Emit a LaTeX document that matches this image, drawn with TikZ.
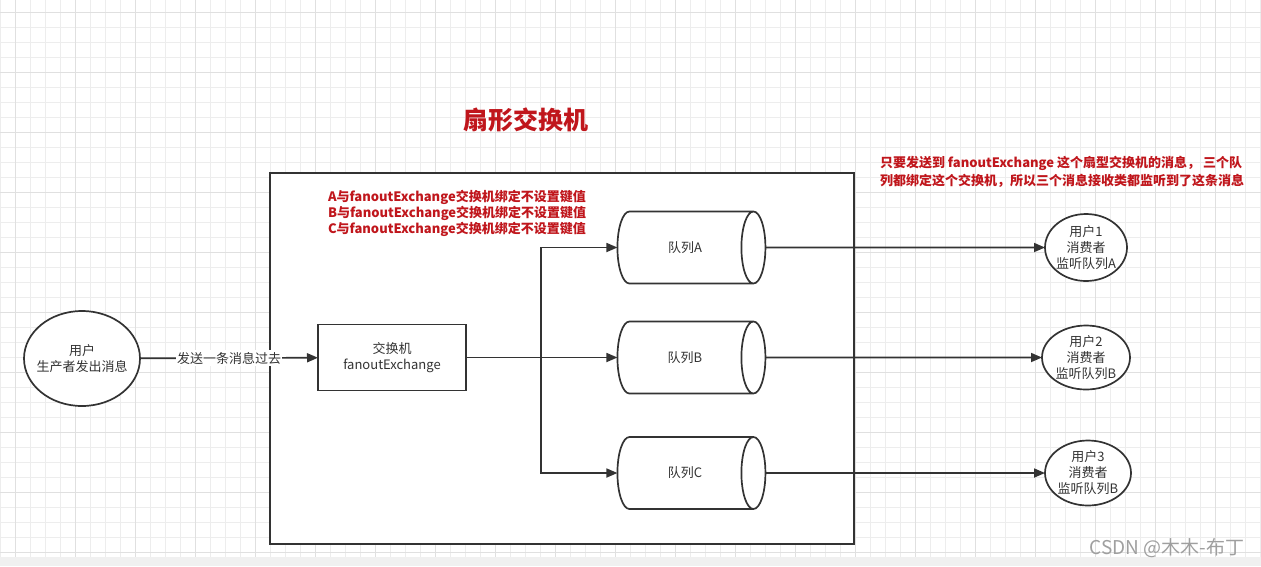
\documentclass[tikz,border=0pt]{standalone}
\usepackage{fontspec}
\setmainfont{Noto Sans CJK SC}
\usepackage{xcolor}
\usetikzlibrary{shapes.geometric, arrows.meta, positioning}
\definecolor{linegray}{HTML}{333333}
\definecolor{notered}{RGB}{192,22,28}
\definecolor{gridminor}{HTML}{EDEDED}
\definecolor{gridmajor}{HTML}{E0E0E0}
\definecolor{stripgray}{HTML}{F0F0F0}

\begin{document}
\begin{tikzpicture}[x=1pt, y=-1pt,
        every node/.style={font=\fontsize{13pt}{16pt}\selectfont, text=linegray, align=center, inner sep=0pt, outer sep=0pt},
        user/.style={ellipse, draw=linegray, line width=1.7pt, fill=white, inner sep=-6pt},
        queue/.style={cylinder, draw=linegray, line width=1.7pt, fill=white, minimum height=148pt, minimum width=72pt, aspect=2.0},
        flow/.style={draw=linegray, line width=1.7pt, -{Triangle[length=11pt, width=9pt]}},
        note/.style={text=notered, font=\bfseries\fontsize{13pt}{16pt}\selectfont, align=left}]

        \useasboundingbox (0,0) rectangle (1261,566);

        % Background grid
        \fill[white] (0,0) rectangle (1261,556.7);
        \foreach \gx in {0.7,15.7,...,1261} \draw[gridminor, line width=1pt] (\gx,0) -- (\gx,556.7);
        \foreach \gy in {-2.7,12.3,...,556} \draw[gridminor, line width=1pt] (0,\gy) -- (1261,\gy);
        \foreach \gx in {15.7,75.7,...,1261} \draw[gridmajor, line width=1pt] (\gx,0) -- (\gx,556.7);
        \foreach \gy in {12.3,72.3,...,556} \draw[gridmajor, line width=1pt] (0,\gy) -- (1261,\gy);
        \fill[stripgray] (0,556.7) rectangle (1261,566);

        % Exchange frame
        \draw[draw=linegray, line width=1.7pt, fill=white] (270,173) rectangle (854,544);

        % Title and notes
        \node[note, font=\bfseries\fontsize{25pt}{30pt}\selectfont] (title) at (525.5,120) {扇形交换机};
        \node[note, anchor=west] (bindnote) at (328,213.5) {A与fanoutExchange交换机绑定不设置键值\\B与fanoutExchange交换机绑定不设置键值\\C与fanoutExchange交换机绑定不设置键值};
        \node[note, anchor=west, font=\bfseries\fontsize{13pt}{18pt}\selectfont] (fannote) at (880,172) {只要发送到 fanoutExchange 这个扇型交换机的消息， 三个队\\列都绑定这个交换机，所以三个消息接收类都监听到了这条消息};

        % Producer and exchange
        \node[user, minimum width=116pt, minimum height=95pt] (prod) at (82,358.5) {用户\\生产者发出消息};
        \node[draw=linegray, line width=1.7pt, fill=white, minimum width=148pt, minimum height=66pt] (ex) at (392,357.5) {交换机\\fanoutExchange};
        \draw[flow] (prod) -- (ex) node[midway, fill=white, inner xsep=1pt, inner ysep=2pt] (sendlbl) {发送一条消息过去};

        % Queues
        \node[queue] (qA) at (685,247.5) {队列A};
        \node[queue] (qB) at (685,357.5) {队列B};
        \node[queue] (qC) at (685,473) {队列C};

        \coordinate (split) at (540.7,357.5);
        \draw[flow] (ex.east) -- (split) |- (qA.west);
        \draw[flow] (ex.east) -- (split) -- (qB.west);
        \draw[flow] (ex.east) -- (split) |- (qC.west);

        % Consumers
        \node[user, minimum width=82pt, minimum height=67pt] (cons1) at (1086,247.5) {用户1\\消费者\\监听队列A};
        \node[user, minimum width=88pt, minimum height=64pt] (cons2) at (1086,357.5) {用户2\\消费者\\监听队列B};
        \node[user, minimum width=86pt, minimum height=65pt] (cons3) at (1088,473) {用户3\\消费者\\监听队列B};

        \draw[flow] (qA.east) -- (cons1.west);
        \draw[flow] (qB.east) -- (cons2.west);
        \draw[flow] (qC.east) -- (cons3.west);

        % Watermark
        \node[text=gray!75, font=\fontsize{19pt}{21pt}\selectfont] (mark) at (1167,548) {CSDN @木木-布丁};
\end{tikzpicture}
\end{document}
